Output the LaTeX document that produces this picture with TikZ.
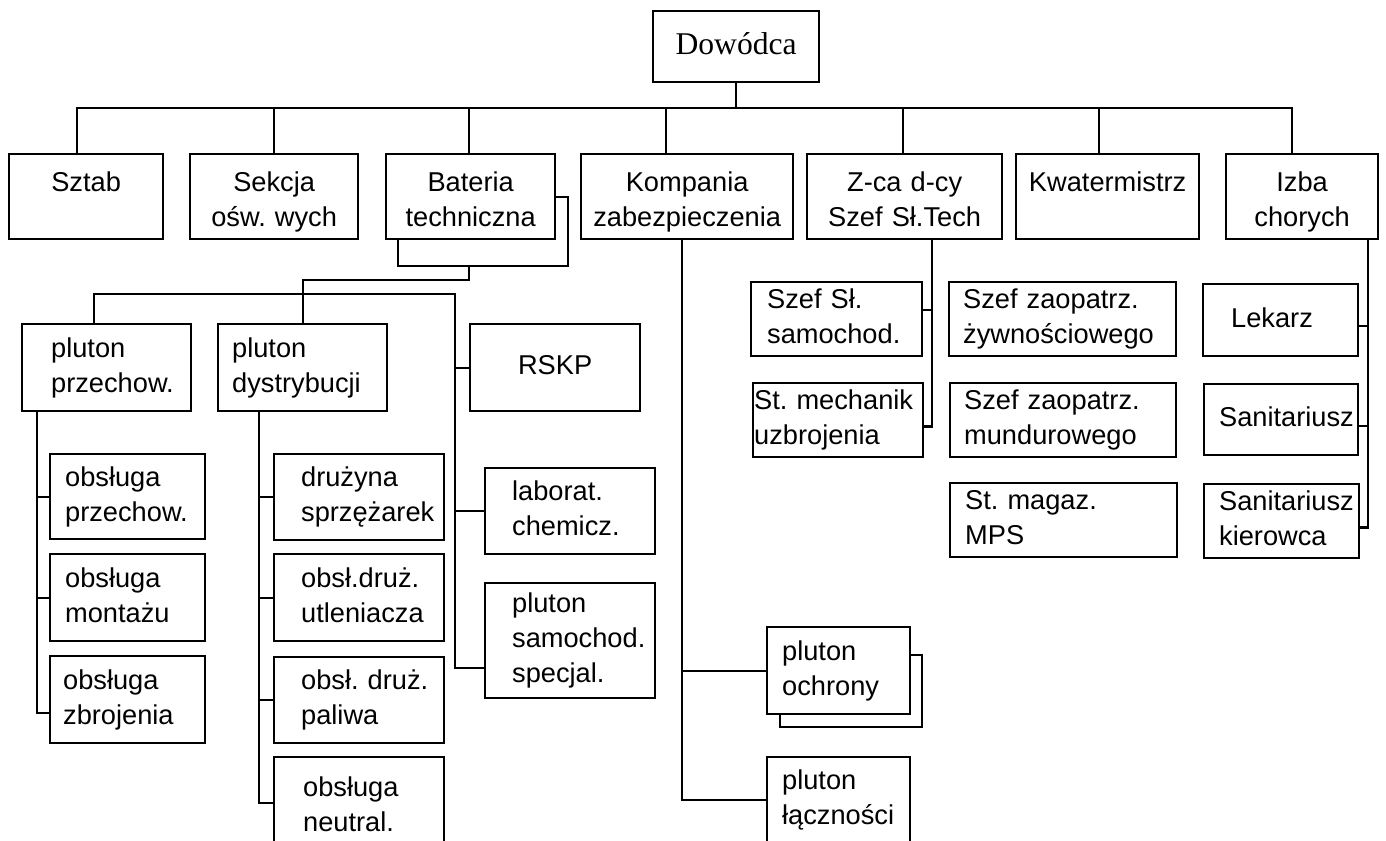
\documentclass[tikz,border=0pt]{standalone}
\usepackage{fontspec}
\setmainfont{Liberation Sans}
\newfontfamily\dowfont{Liberation Serif}
\frenchspacing
\tikzset{
  cell/.style n args={3}{draw, anchor=north west, minimum width=#1*0.02cm,
    minimum height=#2*0.02cm, inner xsep=#3*0.02cm, inner ysep=1pt,
    text width=(#1-2*#3)*0.02cm, align=left,
    font=\fontsize{15.5}{20}\selectfont,
    execute at begin node=\strut, execute at end node=\strut},
  ccell/.style 2 args={cell={#1}{#2}{4}, align=center},
  toprow/.style={ccell={#1}{85}, execute at begin node={\rule{0pt}{20pt}}},
}
\begin{document}
\begin{tikzpicture}[x=0.02cm,y=-0.02cm,line width=1.3pt]
		\clip (0,0) rectangle (1386,840);
		% top row
		\node[ccell={166}{71}, font=\dowfont\fontsize{18}{22}\selectfont] (dow) at (652,10) {Dowódca};
		\node[toprow=154] (sztab) at (8,153) {Sztab\\\strut};
		\node[toprow=168] (sekcja) at (189,153) {Sekcja\\ośw.~wych};
		\node[toprow=169] (bat) at (385,153) {Bateria\\techniczna};
		\node[toprow=212] (komp) at (580,153) {Kompania\\zabezpieczenia};
		\node[toprow=195] (zca) at (806,153) {Z-ca~d-cy\\Szef~Sł.Tech};
		\node[toprow=183] (kwat) at (1015,153) {Kwatermistrz\\\strut};
		\node[toprow=152] (izba) at (1225,153) {Izba\\chorych};
		% bateria techniczna
		\node[cell={169}{87}{29}] (przech) at (21,323) {pluton\\przechow.};
		\node[cell={169}{87}{14}] (dystr) at (217,323) {pluton\\dystrybucji};
		\node[ccell={170}{87}] (rskp) at (469,323) {RSKP};
		\node[cell={155}{85}{15}] (obprz) at (49,453) {obsługa\\przechow.};
		\node[cell={155}{87}{15}] (obmont) at (49,553) {obsługa\\montażu};
		\node[cell={155}{87}{13}] (obzbr) at (49,655) {obsługa\\zbrojenia};
		\node[cell={170}{86}{27}] (druz) at (273,453) {drużyna\\sprzężarek};
		\node[cell={170}{87}{27}] (utl) at (273,553) {obsł.druż.\\utleniacza};
		\node[cell={170}{86}{27}] (pal) at (273,656) {obsł.~druż.\\paliwa};
		\node[cell={170}{100}{29}] (neut) at (273,756) {obsługa\\neutral.};
		\node[cell={170}{86}{27}] (lab) at (484,467) {laborat.\\chemicz.};
		\node[cell={170}{115}{27}] (samsp) at (484,582) {pluton\\samochod.\\specjal.};
		% kompania
		\node[cell={143}{87}{15}] (ochr) at (766,626) {pluton\\ochrony};
		\node[cell={143}{86}{15}] (lacz) at (766,756) {pluton\\łączności};
		% z-ca, kwatermistrz, izba
		\node[cell={171}{72}{16}] (szsam) at (750,281) {Szef~Sł.\\samochod.};
		\node[cell={170}{71}{1}] (stmech) at (752,382) {St.~mechanik\\uzbrojenia};
		\node[cell={227}{72}{14}] (zyw) at (948,281) {Szef~zaopatrz.\\żywnościowego};
		\node[cell={226}{72}{14}] (mund) at (949,382) {Szef~zaopatrz.\\mundurowego};
		\node[cell={227}{73}{15}] (mps) at (949,482) {St.~magaz.\\MPS};
		\node[cell={155}{72}{28}] (lek) at (1202,283) {Lekarz};
		\node[cell={154}{71}{15}] (san) at (1203,383) {Sanitariusz};
		\node[cell={155}{73}{15}] (sank) at (1203,483) {Sanitariusz\\kierowca};
		% main bus
		\coordinate (bus) at (735,108);
		\coordinate (busL) at (77,108);
		\coordinate (busR) at (1292,108);
		\draw (dow.south) -- (dow.south |- bus);
		\draw (busL |- sztab.north) |- (busR) -- (busR |- izba.north);
		\foreach \n/\dx in {sekcja/0,bat/-0.03,komp/-0.42,zca/-0.03,kwat/-0.18}{
			\path ([xshift=\dx cm]\n.north) coordinate (top);
			\draw (top) -- (top |- bus);
		}
		% bateria lines
		\coordinate (batR) at (568,266);
		\coordinate (batJ) at (469,266);
		\draw ([xshift=0.26cm]bat.south west) |- (batR) |- (bat.east);
		\draw (batJ) -- ++(0,14) -| (dystr.north);
		\coordinate (bus2) at (455,294);
		\draw ([xshift=-0.26cm]przech.north) |- (bus2) |- ([yshift=-0.55cm]samsp.west);
		\foreach \n in {rskp,lab} \draw (\n.west) -- (\n.west -| bus2);
		\path ([xshift=0.32cm]przech.south west) coordinate (lc);
		\draw (lc) |- ([yshift=-0.26cm]obzbr.west);
		\foreach \n in {obprz,obmont} \draw (\n.west) -- (\n.west -| lc);
		\path ([xshift=0.84cm]dystr.south west) coordinate (mc);
		\draw (mc) |- ([yshift=0.08cm]neut.west);
		\foreach \n in {druz,utl,pal} \draw (\n.west) -- (\n.west -| mc);
		% kompania lines
		\path ([xshift=-0.1cm]komp.south) coordinate (kc);
		\draw (kc) |- (lacz.west);
		\draw (ochr.west) -- (ochr.west -| kc);
		\coordinate (ochrB) at (922,727);
		\draw ([yshift=0.31cm]ochr.east) -| (ochrB) -| ([xshift=0.28cm]ochr.south west);
		% z-ca lines
		\path ([xshift=0.55cm]zca.south) coordinate (zc);
		\draw (zc) |- ([yshift=-0.13cm]stmech.east);
		\path ([yshift=0.18cm]szsam.east) coordinate (t);
		\draw (t) -- (t -| zc);
		% izba lines
		\path ([xshift=-0.22cm]izba.south east) coordinate (ic);
		\draw (ic) |- ([yshift=-0.13cm]sank.east);
		\foreach \n in {lek,san}{
			\path ([yshift=-0.12cm]\n.east) coordinate (t);
			\draw (t) -- (t -| ic);
		}
	\end{tikzpicture}
\end{document}
